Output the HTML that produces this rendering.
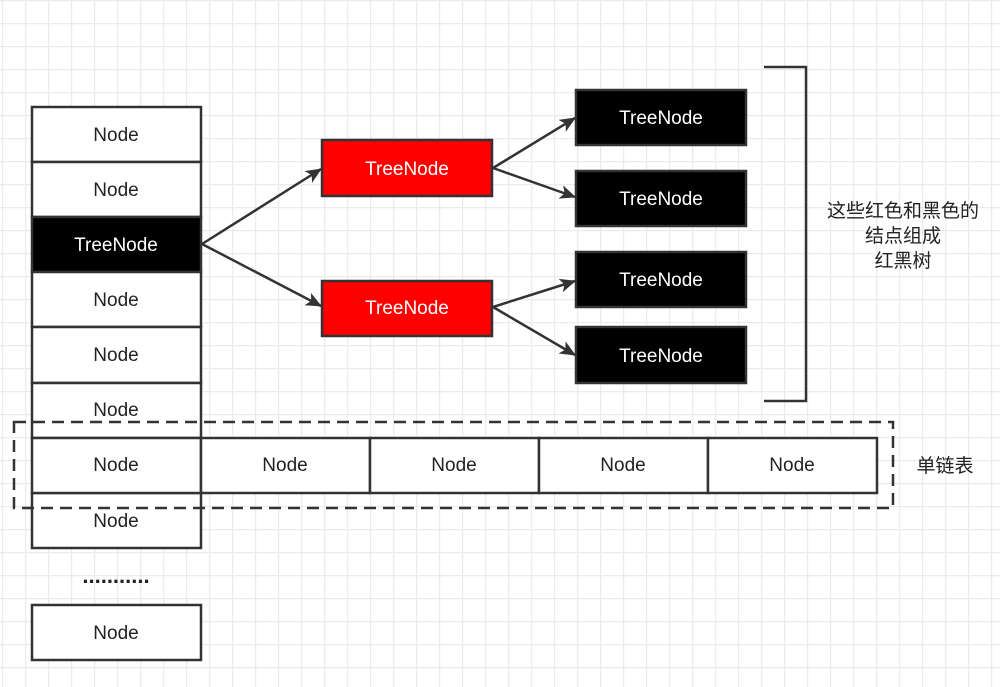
<!DOCTYPE html>
<html><head><meta charset="utf-8"><style>
body{margin:0;width:1000px;height:687px;overflow:hidden;background:#fff}
svg{display:block}
text{font-family:"Liberation Sans","Noto Sans CJK SC",sans-serif}
</style></head><body>
<svg width="1000" height="687" xmlns="http://www.w3.org/2000/svg">
<defs>
<pattern id="g" x="2" y="0" width="23" height="23" patternUnits="userSpaceOnUse">
<path d="M0 0.5H23M0.5 0V23" stroke="#ebebeb" stroke-width="1.5" fill="none"/>
</pattern>
<marker id="a" markerWidth="16" markerHeight="14" refX="15" refY="7" orient="auto" markerUnits="userSpaceOnUse" viewBox="0 0 16 14">
<path d="M0 0L16 7L0 14L4 7Z" fill="#333"/>
</marker>
</defs>
<rect width="1000" height="687" fill="#fff"/>
<rect width="1000" height="687" fill="url(#g)"/>
<g stroke="#333" stroke-width="2.5" fill="#fff">
<rect x="32" y="107" width="169" height="55"/>
<rect x="32" y="162" width="169" height="55"/>
<rect x="32" y="217" width="169" height="55" fill="#000"/>
<rect x="32" y="272" width="169" height="55"/>
<rect x="32" y="327" width="169" height="56"/>
<rect x="32" y="383" width="169" height="55"/>
<rect x="32" y="493" width="169" height="55"/>
<rect x="32" y="438" width="169" height="55"/>
<rect x="201" y="438" width="169" height="55"/>
<rect x="370" y="438" width="169" height="55"/>
<rect x="539" y="438" width="169" height="55"/>
<rect x="708" y="438" width="169" height="55"/>
<rect x="32" y="605" width="169" height="55"/>
<rect x="322" y="140" width="170" height="56" fill="#f00"/>
<rect x="322" y="281" width="170" height="55" fill="#f00"/>
<rect x="576" y="90" width="170" height="55" fill="#000"/>
<rect x="576" y="171" width="170" height="55" fill="#000"/>
<rect x="576" y="252" width="170" height="55" fill="#000"/>
<rect x="576" y="327" width="170" height="56" fill="#000"/>
</g>
<rect x="14" y="422" width="879" height="86" fill="none" stroke="#333" stroke-width="2.5" stroke-dasharray="12,7"/>
<path d="M764 67H806V401H764" fill="none" stroke="#333" stroke-width="2.5"/>
<g stroke="#333" stroke-width="2.5" fill="none" marker-end="url(#a)">
<path d="M202 244L321 169"/>
<path d="M202 244L321 306"/>
<path d="M493 168L575 118"/>
<path d="M493 168L575 197"/>
<path d="M493 307L575 281"/>
<path d="M493 307L575 355"/>
</g>
<g font-size="19" text-anchor="middle" fill="#222">
<text x="116" y="141">Node</text>
<text x="116" y="196">Node</text>
<text x="116" y="306">Node</text>
<text x="116" y="361">Node</text>
<text x="116" y="416">Node</text>
<text x="116" y="471">Node</text>
<text x="116" y="527">Node</text>
<text x="116" y="639">Node</text>
<text x="285" y="471">Node</text>
<text x="454" y="471">Node</text>
<text x="623" y="471">Node</text>
<text x="792" y="471">Node</text>
<text x="116" y="583" font-size="22" font-weight="bold" letter-spacing="0">...........</text>
</g>
<g font-size="19" text-anchor="middle" fill="#fff">
<text x="116" y="251">TreeNode</text>
<text x="407" y="175">TreeNode</text>
<text x="407" y="314">TreeNode</text>
<text x="661" y="124">TreeNode</text>
<text x="661" y="205">TreeNode</text>
<text x="661" y="286">TreeNode</text>
<text x="661" y="362">TreeNode</text>
</g>
<g font-size="19" text-anchor="middle" fill="#222">
<text x="903" y="217">这些红色和黑色的</text>
<text x="903" y="242">结点组成</text>
<text x="903" y="267">红黑树</text>
<text x="945" y="472">单链表</text>
</g>
</svg>
</body></html>
